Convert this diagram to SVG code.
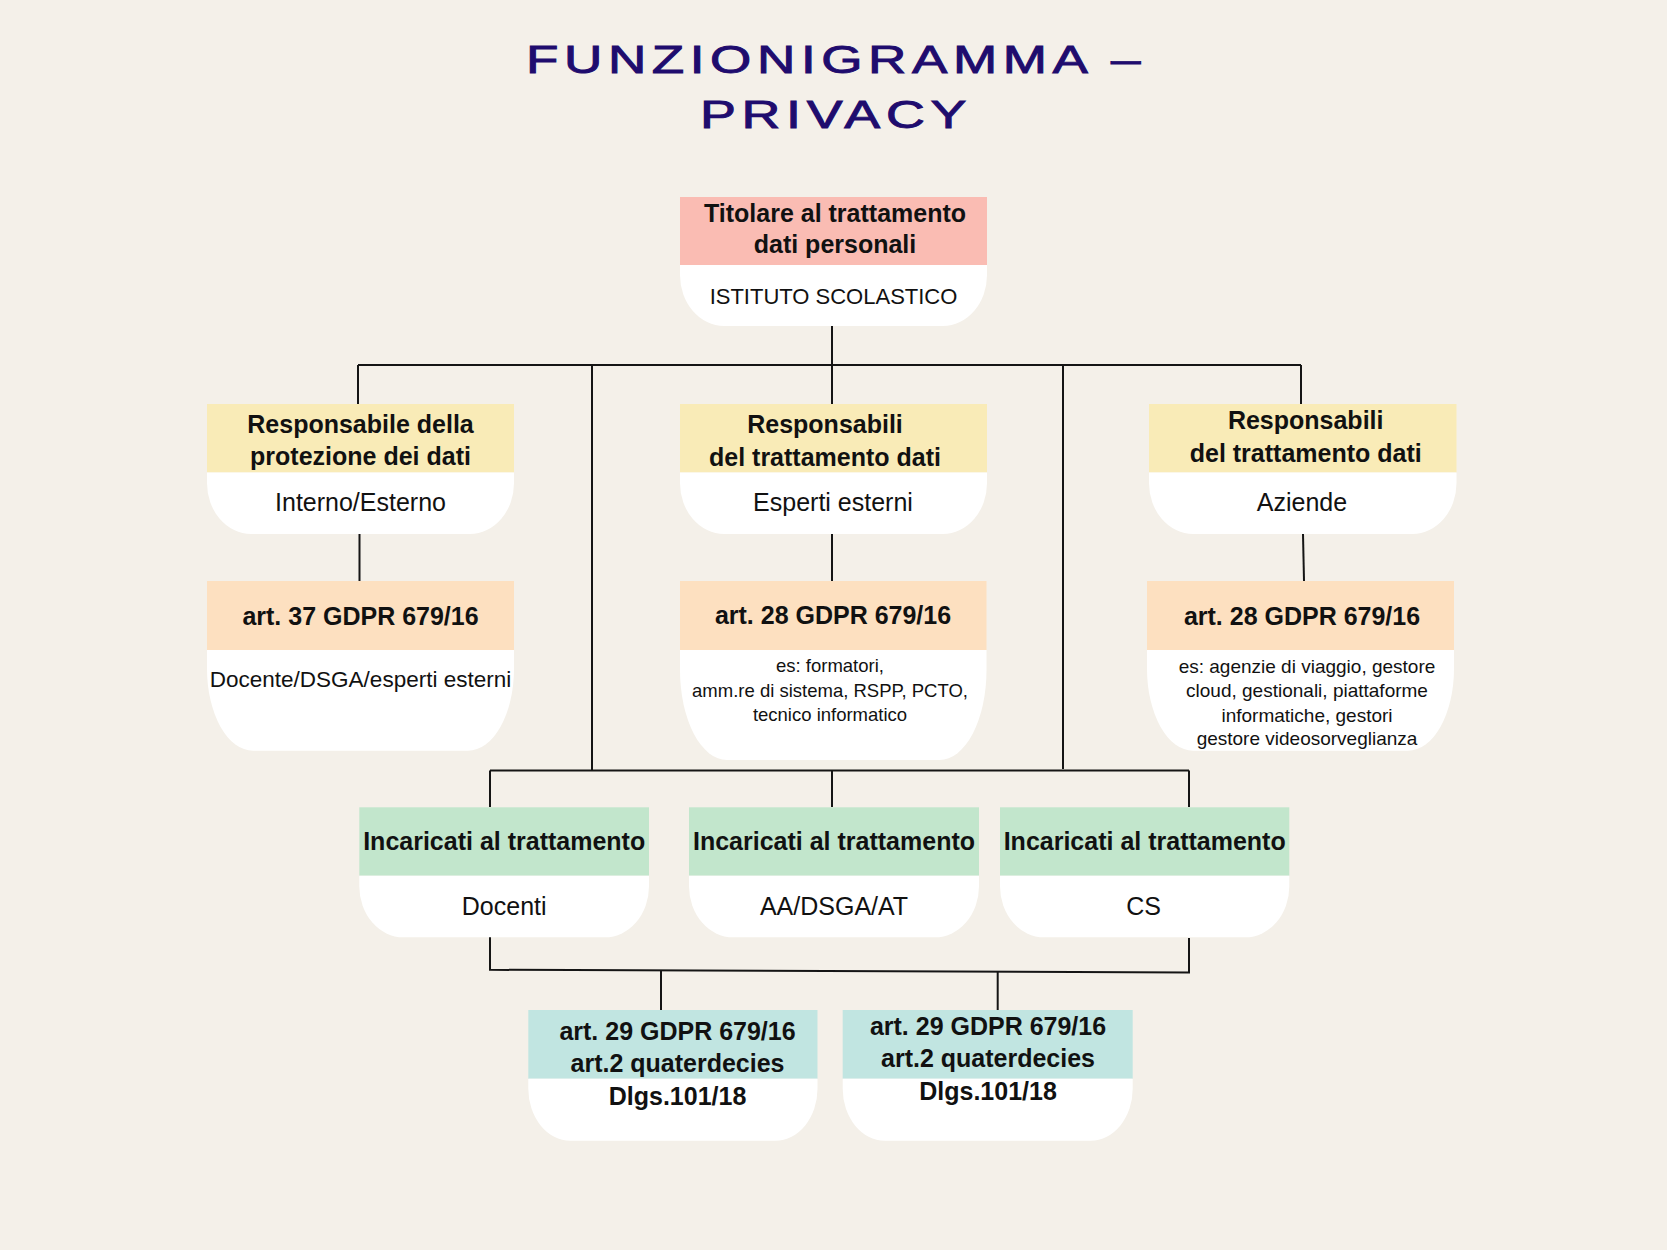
<svg xmlns="http://www.w3.org/2000/svg" width="1667" height="1250" viewBox="0 0 1667 1250">
<style>
.bg{fill:#f4f0e9}
.w{fill:#ffffff}
.hp{fill:#fabcb3}
.hy{fill:#f9ebb7}
.ho{fill:#fde0c0}
.hg{fill:#c2e6cc}
.ht{fill:#c1e5e1}
.t{font-family:"Liberation Sans",Arial,sans-serif;fill:#111111;text-anchor:middle}
.b{font-weight:bold;font-size:25px}
.r{font-size:25px}
.s{font-size:18.5px}
.title{font-family:"Liberation Sans",Arial,sans-serif;font-size:38px;fill:#1f0c6e;stroke:#1f0c6e;stroke-width:0.9;letter-spacing:4px}
.ln{fill:none;stroke:#151515;stroke-width:2}
</style>
<rect class="bg" x="0" y="0" width="1667" height="1250"/>
<g id="title">
<text class="title" x="526" y="73.3" textLength="620" lengthAdjust="spacingAndGlyphs">FUNZIONIGRAMMA –</text>
<text class="title" x="700" y="128.3" textLength="272" lengthAdjust="spacingAndGlyphs">PRIVACY</text>
</g>
<g id="connectors">
<path class="ln" d="M832 326V365"/>
<path class="ln" d="M358 365H1301"/>
<path class="ln" d="M358 365V404"/>
<path class="ln" d="M832 365V404"/>
<path class="ln" d="M1301 365V404"/>
<path class="ln" d="M592 365V771"/>
<path class="ln" d="M1063 365V769"/>
<path class="ln" d="M359.5 534V581"/>
<path class="ln" d="M832 534V581"/>
<path class="ln" d="M1303 534L1304 581"/>
<path class="ln" d="M490 770.5H1189"/>
<path class="ln" d="M490 770.5V807"/>
<path class="ln" d="M832 770.5V807"/>
<path class="ln" d="M1189 770.5V807"/>
<path class="ln" d="M490 937V969.8L1189 972.5V938"/>
<path class="ln" d="M661 970V1010"/>
<path class="ln" d="M997.7 971.3V1010"/>
</g>
<g id="titolare">
<rect class="hp" x="680" y="197" width="307" height="68"/>
<path class="w" d="M680 265H987V275A44 51 0 0 1 943 326H724A44 51 0 0 1 680 275Z"/>
<text class="t b" x="835" y="221.7">Titolare al trattamento</text>
<text class="t b" x="835" y="253.3">dati personali</text>
<text class="t" x="833.5" y="304" font-size="22">ISTITUTO SCOLASTICO</text>
</g>
<g id="rpd">
<rect class="hy" x="207" y="404" width="307" height="68.5"/>
<path class="w" d="M207 472.5H514V483A44 51 0 0 1 470 534H251A44 51 0 0 1 207 483Z"/>
<text class="t b" x="360.5" y="433" font-size="24">Responsabile della</text>
<text class="t b" x="360.5" y="464.6" font-size="24">protezione dei dati</text>
<text class="t r" x="360.5" y="511">Interno/Esterno</text>
</g>
<g id="resp-esperti">
<rect class="hy" x="680" y="404" width="307" height="68.5"/>
<path class="w" d="M680 472.5H987V483A44 51 0 0 1 943 534H724A44 51 0 0 1 680 483Z"/>
<text class="t b" x="825" y="433.3">Responsabili</text>
<text class="t b" x="825" y="466">del trattamento dati</text>
<text class="t r" x="833" y="510.7">Esperti esterni</text>
</g>
<g id="resp-aziende">
<rect class="hy" x="1149" y="404" width="307.5" height="68.5"/>
<path class="w" d="M1149 472.5H1456.5V483A44 51 0 0 1 1412.5 534H1193A44 51 0 0 1 1149 483Z"/>
<text class="t b" x="1305.7" y="429.3">Responsabili</text>
<text class="t b" x="1305.7" y="461.7">del trattamento dati</text>
<text class="t r" x="1302" y="511">Aziende</text>
</g>
<g id="art37">
<rect class="ho" x="207" y="581" width="307" height="69"/>
<path class="w" d="M207 650H514V668.7A46 82 0 0 1 468 750.7H253A46 82 0 0 1 207 668.7Z"/>
<text class="t b" x="360.5" y="625">art. 37 GDPR 679/16</text>
<text class="t" x="360.5" y="687" font-size="22.5">Docente/DSGA/esperti esterni</text>
</g>
<g id="art28-esperti">
<rect class="ho" x="680" y="581" width="306.5" height="69"/>
<path class="w" d="M680 650H986.5V670A47 90 0 0 1 939.5 760H727A47 90 0 0 1 680 670Z"/>
<text class="t b" x="833" y="624.3">art. 28 GDPR 679/16</text>
<text class="t s" x="830" y="672.3">es: formatori,</text>
<text class="t s" x="830" y="696.7">amm.re di sistema, RSPP, PCTO,</text>
<text class="t s" x="830" y="721">tecnico informatico</text>
</g>
<g id="art28-aziende">
<rect class="ho" x="1147" y="581" width="307" height="69"/>
<path class="w" d="M1147 650H1454V668.7A46 82 0 0 1 1408 750.7H1193A46 82 0 0 1 1147 668.7Z"/>
<text class="t b" x="1302" y="624.5">art. 28 GDPR 679/16</text>
<text class="t" x="1307" y="672.7" font-size="19">es: agenzie di viaggio,  gestore</text>
<text class="t" x="1307" y="696.7" font-size="19">cloud, gestionali, piattaforme</text>
<text class="t" x="1307" y="721.7" font-size="19">informatiche, gestori</text>
<text class="t" x="1307" y="745" font-size="19">gestore videosorveglianza</text>
</g>
<g id="incaricati-docenti">
<rect class="hg" x="359.3" y="807.3" width="289.7" height="68.4"/>
<path class="w" d="M359.3 875.7H649V886.3A44 51 0 0 1 605 937.3H403.3A44 51 0 0 1 359.3 886.3Z"/>
<text class="t b" x="504.2" y="850">Incaricati al trattamento</text>
<text class="t r" x="504.2" y="915">Docenti</text>
</g>
<g id="incaricati-aa">
<rect class="hg" x="689" y="807.3" width="290" height="68.4"/>
<path class="w" d="M689 875.7H979V886.3A44 51 0 0 1 935 937.3H733A44 51 0 0 1 689 886.3Z"/>
<text class="t b" x="834" y="850">Incaricati al trattamento</text>
<text class="t r" x="834" y="915">AA/DSGA/AT</text>
</g>
<g id="incaricati-cs">
<rect class="hg" x="1000" y="807.3" width="289.3" height="68.4"/>
<path class="w" d="M1000 875.7H1289.3V886.3A44 51 0 0 1 1245.3 937.3H1044A44 51 0 0 1 1000 886.3Z"/>
<text class="t b" x="1144.7" y="850">Incaricati al trattamento</text>
<text class="t r" x="1143.5" y="915">CS</text>
</g>
<g id="art29-a">
<rect class="ht" x="528.3" y="1010" width="289.2" height="68.7"/>
<path class="w" d="M528.3 1078.7H817.5V1088.7A42 52 0 0 1 775.5 1140.7H570.3A42 52 0 0 1 528.3 1088.7Z"/>
<text class="t b" x="677.5" y="1040">art. 29 GDPR 679/16</text>
<text class="t b" x="677.5" y="1071.7">art.2 quaterdecies</text>
<text class="t b" x="677.5" y="1105">Dlgs.101/18</text>
</g>
<g id="art29-b">
<rect class="ht" x="842.7" y="1010" width="290" height="68.7"/>
<path class="w" d="M842.7 1078.7H1132.7V1088.7A42 52 0 0 1 1090.7 1140.7H884.7A42 52 0 0 1 842.7 1088.7Z"/>
<text class="t b" x="988" y="1035">art. 29 GDPR 679/16</text>
<text class="t b" x="988" y="1066.7">art.2 quaterdecies</text>
<text class="t b" x="988" y="1100">Dlgs.101/18</text>
</g>
</svg>
